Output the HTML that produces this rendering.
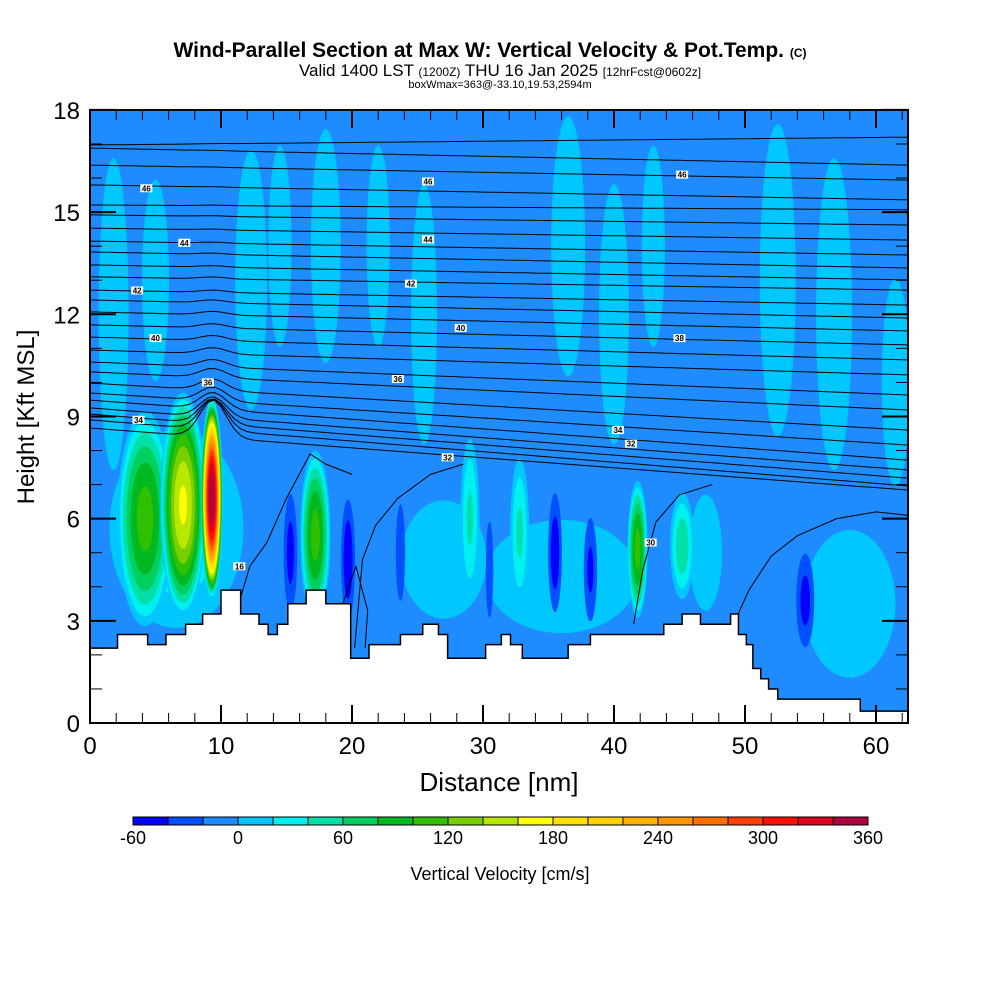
<!DOCTYPE html>
<html><head><meta charset="utf-8"><style>
body{margin:0;background:#fff;width:1000px;height:1000px;overflow:hidden;font-family:"Liberation Sans",sans-serif}
svg text{font-family:"Liberation Sans",sans-serif}
</style></head><body>
<svg id="chart" width="1000" height="1000" viewBox="0 0 1000 1000" xmlns="http://www.w3.org/2000/svg">
<defs><clipPath id="pc"><rect x="90" y="110" width="818" height="613"/></clipPath></defs>
<text x="490" y="57" font-size="21" font-weight="bold" text-anchor="middle">Wind-Parallel Section at Max W: Vertical Velocity &amp; Pot.Temp. <tspan font-size="12">(C)</tspan></text>
<text x="500" y="76" font-size="17" text-anchor="middle">Valid 1400 LST <tspan font-size="12">(1200Z)</tspan> THU 16 Jan 2025 <tspan font-size="12">[12hrFcst@0602z]</tspan></text>
<text x="500" y="88" font-size="11" text-anchor="middle">boxWmax=363@-33.10,19.53,2594m</text>
<g id="plot" clip-path="url(#pc)"></g>
<g id="axes"></g>
<text x="499" y="791" font-size="26" text-anchor="middle">Distance [nm]</text>
<text transform="translate(34,417) rotate(-90)" font-size="24" text-anchor="middle">Height [Kft MSL]</text>
<g id="cbar"></g>
<text x="500" y="880" font-size="18" text-anchor="middle">Vertical Velocity [cm/s]</text>
</svg>
<script>
const NS="http://www.w3.org/2000/svg";
const xTicks=[0,10,20,30,40,50,60];
const yTicks=[0,3,6,9,12,15,18];
const cbLevels=[-60,-40,-20,0,20,40,60,80,100,120,140,160,180,200,220,240,260,280,300,320,340,360];
const cbLabels=[-60,0,60,120,180,240,300,360];
const cbColors=["#0000ff","#0050ff","#1e8cff","#00c8ff","#00f0f0","#00e0a8","#00d060","#00b820","#30c000","#78d000","#b8e800","#ffff00","#ffe000","#ffd000","#ffb000","#ff9800","#ff7000","#ff4000","#ff1000","#e00020","#b00040"];
const backgroundW=-10;
// features: center distance (nm), center height (kft), half-width (nm), half-height (kft), peak w (cm/s)
const featX=[1.8,5,12.3,14.5,18,22,25.5,36.5,40,43,52.5,56.8,61.5,58,6.6,47,36,27,4.2,7.1,9.3,17.2,41.8,45.2,29,32.8,19.7,15.3,35.5,38.2,54.6,23.7,30.5];
const featY=[12,13,13,14,14,14,12,14,12,14,13,12,10,3.5,5.7,5,4.3,4.8,6,6.4,6.6,5.5,5.1,5.2,6,5.6,4.8,5,5,4.5,3.6,5,4.5];
const featRX=[1.5,1.4,1.6,1.2,1.5,1.2,1.3,1.7,1.5,1.2,1.8,1.8,1.4,4.5,5.8,1.6,8,4.5,2.2,1.8,0.85,1.2,0.8,1,0.8,0.8,0.6,0.6,0.6,0.6,0.8,0.5,0.4];
const featRY=[6,4,5,4,4.5,4,5,5,5,4,6,6,4,2.8,3.3,2.2,2.3,2.4,3.3,3.4,3.0,2.6,2.1,1.7,2.6,2.4,2,2,2,1.8,1.6,2,2];
const featW=[14,12,14,12,14,12,14,14,14,12,14,14,14,15,35,15,11,11,110,165,365,110,110,55,45,45,-55,-48,-52,-45,-48,-30,-30];
// terrain: step starts (nm) and heights (kft)
const terrX=[0,2.1,4.4,5.8,7.3,8.6,10,11.5,12.9,13.6,14.3,15.1,16.5,18,18.7,19.9,21.3,23,23.7,25.4,26.6,27.3,29.3,30.2,31.4,32.1,33,36.5,38.2,43.8,45.2,46.6,48.9,49.5,50.1,50.6,51.2,51.8,52.5,58.8];
const terrH=[2.2,2.6,2.3,2.6,2.9,3.2,3.9,3.2,2.9,2.6,2.9,3.5,3.9,3.5,3.5,1.9,2.3,2.3,2.6,2.9,2.6,1.9,1.9,2.3,2.6,2.3,1.9,2.3,2.6,2.9,3.2,2.9,3.2,2.6,2.3,1.6,1.3,1.0,0.7,0.35];
// potential temperature contours (kft at left / right edge)
const thetaLeft=[16.97,16.88,16.38,15.8,15.21,14.92,14.53,14.15,13.83,13.45,13.1,12.71,12.42,12.07,11.69,11.33,10.95,10.6,10.31,9.98,9.69,9.48,9.25,9.07,8.9,8.66];
const thetaRight=[17.2,16.38,15.94,15.36,15.07,14.62,14.18,13.74,13.36,13.01,12.71,12.27,11.89,11.51,11.1,10.66,10.22,9.63,9.19,8.6,8.16,7.72,7.43,7.19,6.96,6.84];
const labelText=["46","46","46","44","44","42","42","40","40","38","36","36","34","34","32","32","16","30"];
const labelX=[4.3,25.8,45.2,7.2,25.8,3.6,24.5,5,28.3,45,9,23.5,3.7,40.3,27.3,41.3,11.4,42.8];
const labelY=[15.7,15.9,16.1,14.1,14.2,12.7,12.9,11.3,11.6,11.3,10.0,10.1,8.9,8.6,7.8,8.2,4.6,5.3];
const c30a=[[11.2,3.3],[12.2,4.6],[13.5,5.3],[15,6.6],[16.8,7.9],[18,7.6],[20,7.3]];
const c30b=[[20.2,2.2],[20.8,4.8],[21.8,5.8],[23.5,6.6],[26,7.3],[28.5,7.6]];
const c30c=[[41.5,2.9],[42.2,4.5],[43.2,5.9],[45,6.7],[47.5,7.0]];
const c30d=[[49,2.8],[50.3,3.9],[52,4.9],[54,5.5],[57,6.0],[60,6.2],[62.4,6.1]];
const c30e=[[19.3,2.1],[19.2,3.4],[20.3,4.6],[21.2,3.3],[21,2.2]];

const X=v=>90+v*13.1, Y=v=>723-v*34.06;
const plot=document.getElementById('plot'),axes=document.getElementById('axes'),cbar=document.getElementById('cbar');
function mk(tag,attrs,parent){const e=document.createElementNS(NS,tag);for(const k in attrs)e.setAttribute(k,attrs[k]);parent.appendChild(e);return e;}
function colorFor(l){const i=cbLevels.indexOf(l);return cbColors[Math.max(0,Math.min(cbColors.length-1,i))];}

let bg=mk('rect',{x:90,y:110,width:818,height:613,fill:colorFor(-20)},plot);


const order=featX.map((_,i)=>i).sort((a,b)=>Math.abs(featW[a])-Math.abs(featW[b]));
order.forEach(i=>{
  const fx=featX[i];
  const p=featW[i];
  const g=mk('g',{},plot);
  
  
  if(p>backgroundW){
    for(const L of cbLevels){ if(L<=backgroundW||L>=p) continue;
      const f=Math.sqrt(1-(L-backgroundW)/(p-backgroundW));
      mk('ellipse',{cx:X(fx),cy:Y(featY[i]),rx:featRX[i]*13.1*f,ry:featRY[i]*34.06*f,fill:colorFor(L)},g);}
  } else {
    for(let k=cbLevels.length-1;k>=0;k--){const L=cbLevels[k]; if(L>backgroundW-10||L<=p) continue;
      const f=Math.sqrt(1-(L-backgroundW)/(p-backgroundW));
      mk('ellipse',{cx:X(fx),cy:Y(featY[i]),rx:featRX[i]*13.1*f,ry:featRY[i]*34.06*f,fill:colorFor(L-20)},g);}
  }
});
// theta contours
thetaLeft.forEach((l,i)=>{
  const r=thetaRight[i];const n=thetaLeft.length;let d='';
  for(let s=0;s<=125;s++){const xn=s*0.5;let h=l+(r-l)*xn/62.4;
    const amp=1.1*Math.exp(-(n-1-i)/5);h+=amp*Math.exp(-Math.pow((xn-9.4)/1.4,2));
    d+=(s?'L':'M')+X(xn).toFixed(1)+','+Y(h).toFixed(1);}
  const p=mk('path',{d:d,fill:'none',stroke:'#000','stroke-width':1},plot);
  
  
});
[c30a,c30b,c30c,c30d,c30e].forEach((arr,j)=>{
  const p=mk('path',{d:arr.map((q,k)=>(k?'L':'M')+X(q[0])+','+Y(q[1])).join(''),fill:'none',stroke:'#000','stroke-width':1},plot);
  
  
});
// terrain
let td='M'+X(0)+','+Y(0);
terrX.forEach((tx,i)=>{const nx=i<terrX.length-1?terrX[i+1]:62.5;td+='L'+X(tx)+','+Y(terrH[i])+'L'+X(nx)+','+Y(terrH[i]);});
td+='L'+X(62.5)+','+Y(0)+'Z';
const terr=mk('path',{d:td,fill:'#fff',stroke:'#000','stroke-width':1.5},plot);


labelText.forEach((t,i)=>{
  const g=mk('g',{},plot);
  
  
  mk('rect',{x:X(labelX[i])-6,y:Y(labelY[i])-4,width:12,height:8,fill:'#fff'},g);
  const tt=mk('text',{x:X(labelX[i]),y:Y(labelY[i])+3,'font-size':8,'font-weight':'bold','text-anchor':'middle'},g);tt.textContent=t;
});
// axes
const frame=mk('rect',{x:90,y:110,width:818,height:613,fill:'none',stroke:'#000','stroke-width':2},axes);


for(let v=0;v<=62;v+=2){const big=v%10===0;
  mk('line',{x1:X(v),x2:X(v),y1:723,y2:723-(big?18:10),stroke:'#000','stroke-width':big?2:1},axes);
  mk('line',{x1:X(v),x2:X(v),y1:110,y2:110+(big?18:10),stroke:'#000','stroke-width':big?2:1},axes);}
for(let v=0;v<=18;v+=1){const big=v%3===0;
  mk('line',{x1:90,x2:90+(big?26:12),y1:Y(v),y2:Y(v),stroke:'#000','stroke-width':big?2:1},axes);
  mk('line',{x1:908,x2:908-(big?26:12),y1:Y(v),y2:Y(v),stroke:'#000','stroke-width':big?2:1},axes);}
xTicks.forEach(v=>{const t=mk('text',{x:X(v),y:754,'font-size':24,'text-anchor':'middle'},axes);t.textContent=v;
  
  });
yTicks.forEach(v=>{const t=mk('text',{x:80,y:Y(v)+9,'font-size':24,'text-anchor':'end'},axes);t.textContent=v;
  
  });
// colorbar
const cw=735/cbColors.length;
cbColors.forEach((c,i)=>{const r=mk('rect',{x:133+i*cw,y:817,width:cw,height:8,fill:c,stroke:'#000','stroke-width':1},cbar);
  
  });
cbLabels.forEach(v=>{const i=cbLevels.indexOf(v);const t=mk('text',{x:133+i*cw,y:844,'font-size':18,'text-anchor':'middle'},cbar);t.textContent=v;
  
  });
</script>
</body></html>
